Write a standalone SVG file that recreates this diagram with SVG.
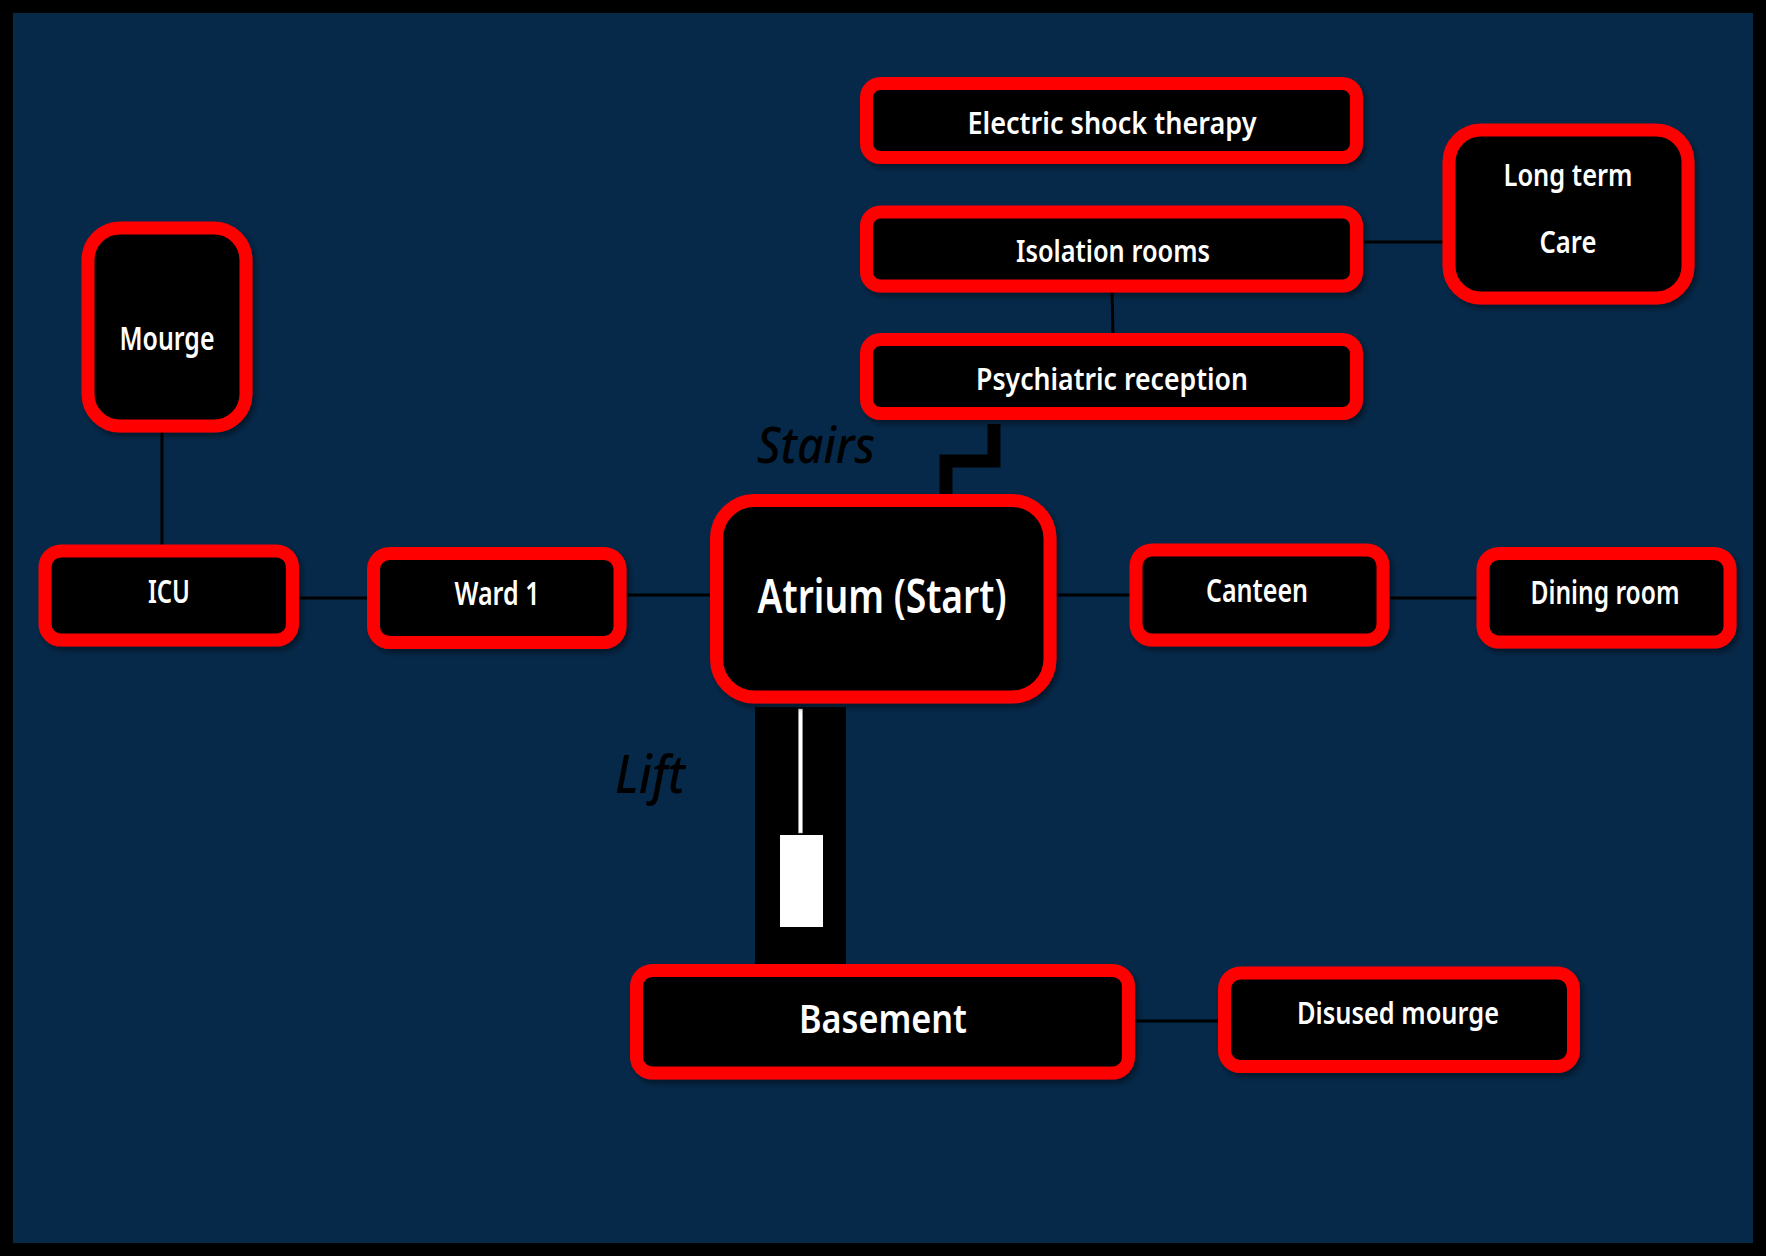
<svg xmlns="http://www.w3.org/2000/svg" width="1766" height="1256" viewBox="0 0 1766 1256">
<defs>
<style>
.box{fill:#000;stroke:#FF0000;stroke-width:13;filter:url(#sh)}
.lbl{fill:#fff;font-family:"Noto Sans",sans-serif;font-weight:600;text-anchor:middle}
.conn{stroke:#000;stroke-width:3;fill:none}
.note{fill:#000;font-family:"Noto Sans",sans-serif;font-style:italic;font-weight:500;text-anchor:start}
</style>
<filter id="sh" x="-10%" y="-10%" width="125%" height="130%">
<feDropShadow dx="3" dy="4" stdDeviation="3" flood-color="#000" flood-opacity="0.45"/>
</filter>
</defs>
<rect x="0" y="0" width="1766" height="1256" fill="#000"/>
<rect x="13" y="13" width="1740" height="1230" fill="#06294A"/>

<g id="connectors">
<line class="conn" x1="162" y1="430" x2="162" y2="547"/>
<line class="conn" x1="297" y1="598" x2="369" y2="598"/>
<line class="conn" x1="624" y1="595" x2="712" y2="595"/>
<line class="conn" x1="1055" y1="595" x2="1132" y2="595"/>
<line class="conn" x1="1387" y1="598" x2="1479" y2="598"/>
<line class="conn" x1="1361" y1="242" x2="1445" y2="242"/>
<line class="conn" x1="1112" y1="289" x2="1113" y2="337"/>
<line class="conn" x1="1133" y1="1021" x2="1220" y2="1021"/>
<polyline points="994,424 994,461 946,461 946,502" fill="none" stroke="#000" stroke-width="13" stroke-linejoin="miter"/>
<g id="lift">
<rect x="755" y="707" width="91" height="260" fill="#000"/>
<rect x="798.5" y="709" width="4" height="124" fill="#fff" stroke="#999" stroke-width="0.6"/>
<rect x="780" y="835" width="43" height="92" fill="#fff"/>
</g>
</g>

<g id="stairs-label"><text class="note" x="757" y="463" font-size="50" textLength="118" lengthAdjust="spacingAndGlyphs">Stairs</text></g>
<g id="lift-label"><text class="note" x="615" y="793" font-size="52" textLength="70" lengthAdjust="spacingAndGlyphs">Lift</text></g>

<g id="electric">
<rect class="box" x="866.5" y="83.5" width="490" height="74" rx="14"/>
<text class="lbl" x="1112" y="134" font-size="31" textLength="289" lengthAdjust="spacingAndGlyphs">Electric shock therapy</text>
</g>
<g id="isolation">
<rect class="box" x="866.5" y="212" width="490" height="74" rx="14"/>
<text class="lbl" x="1113" y="262" font-size="31" textLength="194" lengthAdjust="spacingAndGlyphs">Isolation rooms</text>
</g>
<g id="psych">
<rect class="box" x="866.5" y="339.5" width="490" height="74" rx="14"/>
<text class="lbl" x="1112" y="390" font-size="31" textLength="272" lengthAdjust="spacingAndGlyphs">Psychiatric reception</text>
</g>
<g id="longterm">
<rect class="box" x="1449" y="130" width="239" height="168" rx="32"/>
<text class="lbl" x="1568" y="186" font-size="31" textLength="129" lengthAdjust="spacingAndGlyphs">Long term</text>
<text class="lbl" x="1568" y="253" font-size="31" textLength="57" lengthAdjust="spacingAndGlyphs">Care</text>
</g>
<g id="mourge">
<rect class="box" x="88" y="228" width="158" height="198" rx="32"/>
<text class="lbl" x="167" y="350" font-size="32" textLength="95" lengthAdjust="spacingAndGlyphs">Mourge</text>
</g>
<g id="icu">
<rect class="box" x="45" y="551" width="247.5" height="89" rx="16"/>
<text class="lbl" x="169" y="603" font-size="32" textLength="42" lengthAdjust="spacingAndGlyphs">ICU</text>
</g>
<g id="ward1">
<rect class="box" x="373.5" y="553.5" width="246.5" height="89" rx="16"/>
<text class="lbl" x="497" y="605" font-size="32" textLength="85" lengthAdjust="spacingAndGlyphs">Ward 1</text>
</g>
<g id="atrium">
<rect class="box" x="716.5" y="500.5" width="333.5" height="196.5" rx="38"/>
<text class="lbl" x="882" y="613" font-size="46" textLength="249" lengthAdjust="spacingAndGlyphs">Atrium (Start)</text>
</g>
<g id="canteen">
<rect class="box" x="1136" y="550" width="247" height="90" rx="16"/>
<text class="lbl" x="1257" y="602" font-size="32" textLength="102" lengthAdjust="spacingAndGlyphs">Canteen</text>
</g>
<g id="dining">
<rect class="box" x="1483" y="553.5" width="247" height="88.5" rx="16"/>
<text class="lbl" x="1605" y="604" font-size="32" textLength="149" lengthAdjust="spacingAndGlyphs">Dining room</text>
</g>
<g id="basement">
<rect class="box" x="636.5" y="970.5" width="492" height="102.5" rx="16"/>
<text class="lbl" x="883" y="1033" font-size="40" textLength="168" lengthAdjust="spacingAndGlyphs">Basement</text>
</g>
<g id="disused">
<rect class="box" x="1224.5" y="973" width="349" height="93.5" rx="16"/>
<text class="lbl" x="1398" y="1024" font-size="31" textLength="202" lengthAdjust="spacingAndGlyphs">Disused mourge</text>
</g>
</svg>
